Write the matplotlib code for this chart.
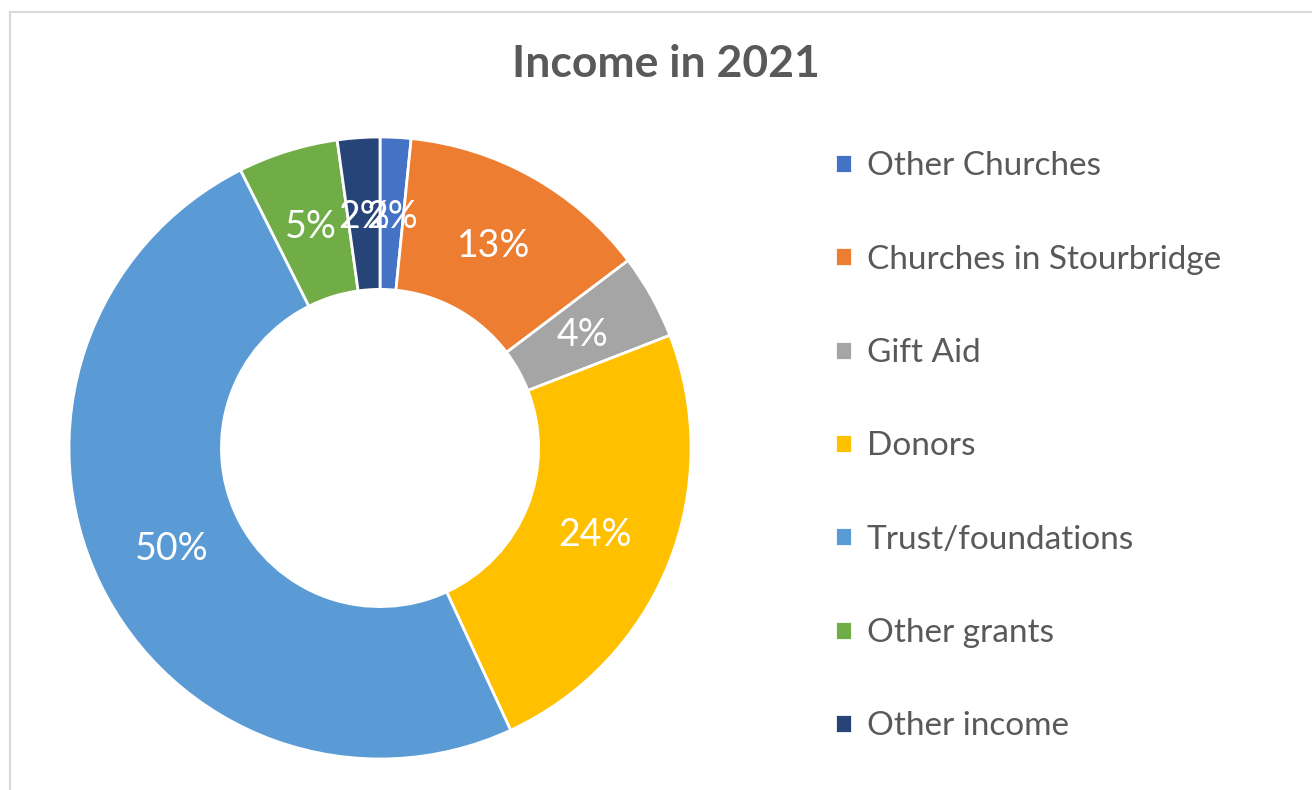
import matplotlib.pyplot as plt
from matplotlib.lines import Line2D

plt.rcParams['font.family'] = ['Lato', 'DejaVu Sans']

# income split, percent of total
sources = ['Other Churches', 'Churches in Stourbridge', 'Gift Aid', 'Donors',
           'Trust/foundations', 'Other grants', 'Other income']
shares = [1.6, 13.1, 4.4, 24.0, 49.5, 5.2, 2.2]
colors = ['#4472C4', '#ED7D31', '#A5A5A5', '#FFC000', '#5B9BD5', '#70AD47', '#264478']

W, H = 1312, 790
fig = plt.figure(figsize=(W / 100, H / 100), dpi=100)

# chart-area frame (only top and left edges fall inside the image)
fig.add_artist(Line2D([10 / W, 10 / W], [0, 1 - 12 / H], transform=fig.transFigure,
                      color='#d9d9d9', linewidth=1.5))
fig.add_artist(Line2D([10 / W, 1], [1 - 12 / H, 1 - 12 / H], transform=fig.transFigure,
                      color='#d9d9d9', linewidth=1.5))

fig.text(666 / W, 1 - 64 / H, 'Income in 2021', ha='center', va='center',
         fontsize=32, fontweight='bold', color='#595959')

# donut centred at (380, 448) px with outer radius ~311 px
r = 311
ax = fig.add_axes([(380 - r) / W, (H - 448 - r) / H, 2 * r / W, 2 * r / H])
wedges, texts, autotexts = ax.pie(
    shares, colors=colors, startangle=90, counterclock=False, radius=1,
    autopct='%.0f%%', pctdistance=0.745,
    wedgeprops=dict(width=0.49, edgecolor='white', linewidth=2),
    textprops=dict(color='white', fontsize=27),
)
ax.set_xlim(-1, 1)
ax.set_ylim(-1, 1)
ax.set_aspect('equal')
ax.axis('off')

fig.legend(wedges, sources, loc='upper left', bbox_to_anchor=(822 / W, 1 - 138 / H),
           frameon=False, fontsize=24, labelcolor='#595959',
           handlelength=0.5, handleheight=0.5, handletextpad=0.45,
           labelspacing=1.9, borderaxespad=0)

fig.savefig('out.png', dpi=100)
